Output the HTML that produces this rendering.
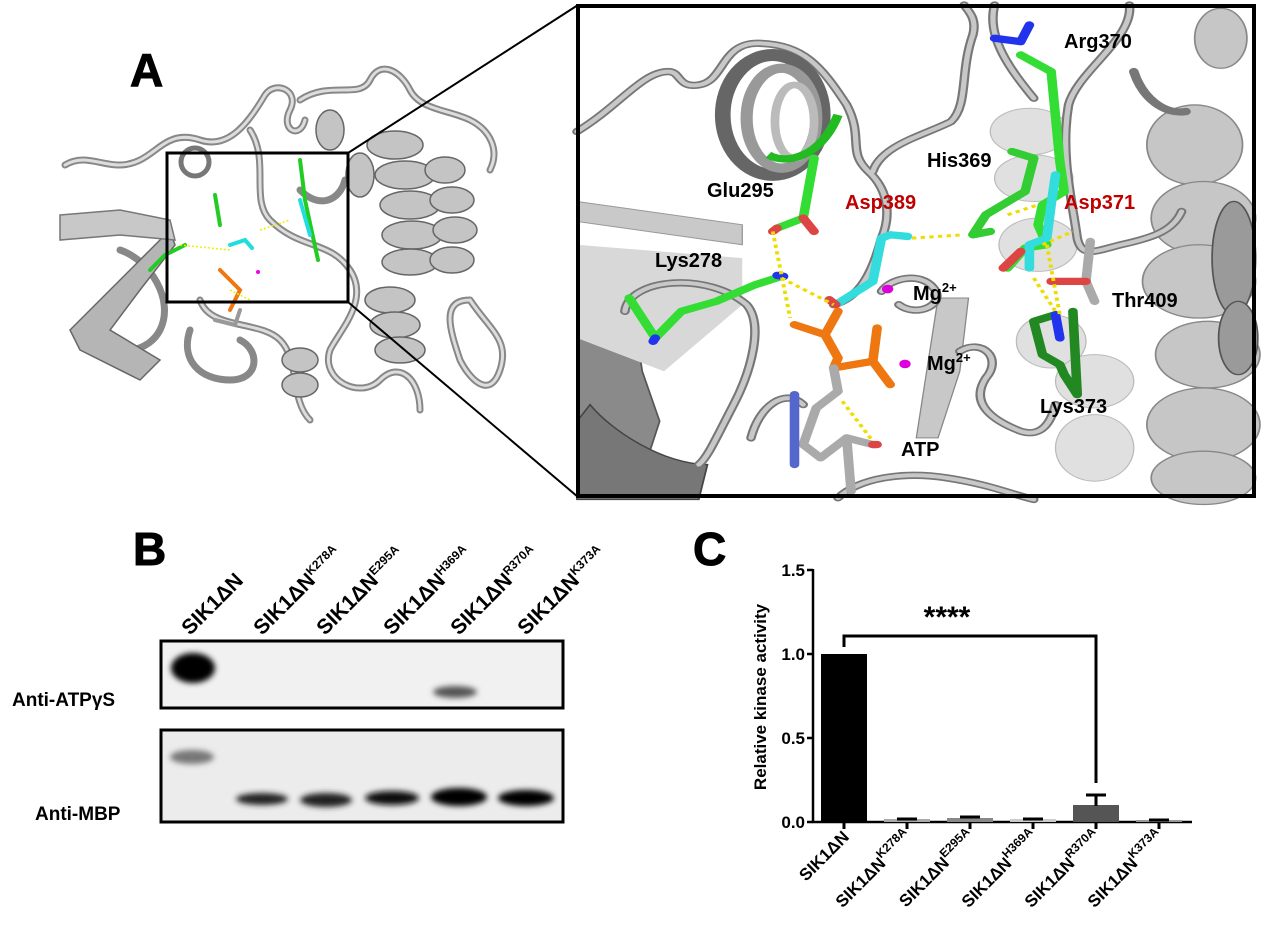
<!DOCTYPE html>
<html><head><meta charset="utf-8">
<style>
html,body{margin:0;padding:0;background:#fff;}
svg{display:block;}
text{font-family:"Liberation Sans",Arial,sans-serif;font-weight:bold;}
</style></head>
<body>
<svg width="1270" height="947" viewBox="0 0 1270 947" xmlns="http://www.w3.org/2000/svg">
<rect width="1270" height="947" fill="#fff"/>

<!-- ===== Panel A left structure ===== -->
<text x="130" y="86" font-size="46" fill="#000" stroke="#000" stroke-width="1">A</text>
<g fill="none" stroke-linecap="round" stroke-linejoin="round">
  <g stroke="#888" stroke-width="7">
  <path d="M65,165 C90,150 110,175 140,160 C160,150 170,130 200,140 C230,150 250,120 265,95 C275,80 300,90 290,110 C280,130 300,140 305,120"/>
  <path d="M250,130 C270,160 250,200 270,220 C300,250 330,240 350,270 C370,300 340,330 330,350 C320,380 360,400 380,380 C400,360 420,380 420,410"/>
  <path d="M300,100 C330,80 360,100 370,80 C380,60 400,70 410,90 C420,110 450,110 470,120 C490,130 500,150 490,170"/>
  <path d="M470,300 C490,330 510,340 500,370 C490,400 470,380 460,360 C450,330 440,300 470,300"/>
  <path d="M190,330 C180,360 200,380 230,380 C260,380 260,350 240,340"/>
  <path d="M90,340 C120,360 150,350 160,330 C175,300 150,260 120,250"/>
  <path d="M200,300 C210,330 260,320 280,340 C300,360 290,400 310,420"/>
  <path d="M300,190 C320,210 340,200 345,180"/>
  </g>
  <g stroke="#ddd" stroke-width="3">
  <path d="M65,165 C90,150 110,175 140,160 C160,150 170,130 200,140 C230,150 250,120 265,95 C275,80 300,90 290,110 C280,130 300,140 305,120"/>
  <path d="M250,130 C270,160 250,200 270,220 C300,250 330,240 350,270 C370,300 340,330 330,350 C320,380 360,400 380,380 C400,360 420,380 420,410"/>
  <path d="M300,100 C330,80 360,100 370,80 C380,60 400,70 410,90 C420,110 450,110 470,120 C490,130 500,150 490,170"/>
  <path d="M470,300 C490,330 510,340 500,370 C490,400 470,380 460,360 C450,330 440,300 470,300"/>
  <path d="M200,300 C210,330 260,320 280,340 C300,360 290,400 310,420"/>
  </g>
</g>
<path d="M70,330 L100,300 L150,250 L170,230 L175,245 L140,290 L110,330 L160,360 L140,380 L80,350 Z" fill="#b5b5b5" stroke="#666" stroke-width="1.5"/>
<path d="M60,215 L120,210 L170,220 L175,240 L120,235 L60,240 Z" fill="#c8c8c8" stroke="#777" stroke-width="1.5"/>
<g fill="#c4c4c4" stroke="#666" stroke-width="1.5">
  <ellipse cx="395" cy="145" rx="28" ry="14"/>
  <ellipse cx="405" cy="175" rx="30" ry="14"/>
  <ellipse cx="410" cy="205" rx="30" ry="14"/>
  <ellipse cx="412" cy="235" rx="30" ry="14"/>
  <ellipse cx="410" cy="262" rx="28" ry="13"/>
  <ellipse cx="445" cy="170" rx="20" ry="13"/>
  <ellipse cx="452" cy="200" rx="22" ry="13"/>
  <ellipse cx="455" cy="230" rx="22" ry="13"/>
  <ellipse cx="452" cy="260" rx="22" ry="13"/>
  <ellipse cx="300" cy="360" rx="18" ry="12"/>
  <ellipse cx="300" cy="385" rx="18" ry="12"/>
  <ellipse cx="390" cy="300" rx="25" ry="13"/>
  <ellipse cx="395" cy="325" rx="25" ry="13"/>
  <ellipse cx="400" cy="350" rx="25" ry="13"/>
  <ellipse cx="360" cy="175" rx="14" ry="22"/>
  <ellipse cx="330" cy="130" rx="14" ry="20"/>
  <ellipse cx="195" cy="162" rx="14" ry="14" fill="none" stroke="#777" stroke-width="5"/>
</g>
<g stroke-width="4" fill="none" stroke-linecap="round">
  <path d="M150,270 L165,255 L185,245" stroke="#22cc22"/>
  <path d="M215,195 L220,225" stroke="#22cc22"/>
  <path d="M230,245 L245,240 L252,248" stroke="#22dddd"/>
  <path d="M220,270 L240,290 L230,310" stroke="#ee7711"/>
  <path d="M300,160 L305,200 L318,260" stroke="#22cc22"/>
  <path d="M300,200 L310,235" stroke="#22dddd"/>
  <path d="M215,320 L235,325 L240,310" stroke="#999"/>
</g>
<g stroke="#ee0" stroke-width="1.5" stroke-dasharray="2,2" fill="none">
  <path d="M180,245 L230,250"/><path d="M260,230 L290,220"/><path d="M230,290 L250,300"/>
</g>
<circle cx="258" cy="272" r="2" fill="#e0e"/>
<rect x="167" y="153" width="181" height="149" fill="none" stroke="#000" stroke-width="3"/>
<line x1="348" y1="153" x2="578" y2="5" stroke="#000" stroke-width="2"/>
<line x1="348" y1="302" x2="578" y2="497" stroke="#000" stroke-width="2"/>

<!-- ===== Panel A right zoom ===== -->
<g transform="translate(577,5) scale(0.435,0.333)">
  <rect width="1563" height="1485" fill="#fff"/>
  <path d="M0,720 C60,760 130,900 150,1100 L190,1250 L160,1370 L0,1370 Z" fill="#8a8a8a" stroke="#555" stroke-width="4"/>
  <path d="M0,590 L380,660 L380,720 L0,650 Z" fill="#c9c9c9" stroke="#999" stroke-width="3"/>
  <path d="M0,720 L380,760 L380,900 L200,1100 L0,1000 Z" fill="#d8d8d8" stroke="none"/>
  <path d="M30,1200 C80,1280 200,1380 300,1380 L280,1485 L0,1485 L0,1250 Z" fill="#777" stroke="#444" stroke-width="4"/>
  <g fill="#c6c6c6" stroke="#888" stroke-width="4">
    <ellipse cx="1480" cy="100" rx="60" ry="90"/>
    <ellipse cx="1420" cy="420" rx="110" ry="120"/>
    <ellipse cx="1440" cy="640" rx="120" ry="110"/>
    <ellipse cx="1430" cy="830" rx="130" ry="110"/>
    <ellipse cx="1450" cy="1050" rx="120" ry="100"/>
    <ellipse cx="1440" cy="1260" rx="130" ry="110"/>
    <ellipse cx="1440" cy="1420" rx="120" ry="80"/>
  </g>
  <g fill="#9a9a9a" stroke="#555" stroke-width="4">
    <ellipse cx="1510" cy="760" rx="50" ry="170"/>
    <ellipse cx="1520" cy="1000" rx="45" ry="110"/>
  </g>
  <g fill="#e0e0e0" stroke="#bbb" stroke-width="3">
    <ellipse cx="1040" cy="380" rx="90" ry="70"/>
    <ellipse cx="1050" cy="520" rx="90" ry="70"/>
    <ellipse cx="1060" cy="720" rx="90" ry="80"/>
    <ellipse cx="1090" cy="1010" rx="80" ry="80"/>
    <ellipse cx="1190" cy="1130" rx="90" ry="80"/>
    <ellipse cx="1190" cy="1330" rx="90" ry="100"/>
  </g>
  <path d="M830,880 L900,880 L880,1100 L830,1300 L780,1300 Z" fill="#c8c8c8" stroke="#888" stroke-width="3"/>
  <g fill="none" stroke-linecap="round" stroke-linejoin="round">
    <g stroke="#777" stroke-width="22">
    <path d="M0,380 C100,300 150,200 210,200 C240,200 230,250 280,240 C340,230 330,110 420,115 C520,120 560,180 620,300 C660,400 620,440 670,500 C720,560 720,640 700,700 C680,800 650,880 590,900"/>
    <path d="M680,500 C700,420 800,390 860,350 C900,300 880,200 910,90 C920,40 900,20 890,0"/>
    <path d="M1270,0 C1280,100 1150,200 1130,300 C1110,450 1140,600 1150,700 C1160,760 1190,740 1250,720 C1320,700 1370,680 1390,620"/>
    <path d="M110,920 C120,820 300,800 390,900 C430,960 400,1100 360,1200 C320,1300 300,1360 280,1380"/>
    <path d="M700,860 C720,820 790,800 820,850 C850,900 780,940 740,900"/>
    <path d="M880,1040 C930,1000 980,1060 940,1120 C900,1200 960,1250 1020,1280 C1070,1300 1090,1250 1100,1200"/>
    <path d="M1280,200 C1300,280 1350,330 1400,320"/>
    <path d="M600,1480 C650,1420 750,1400 850,1420 C950,1440 1000,1470 1050,1485"/>
    <path d="M960,0 C940,100 1000,200 1050,280"/>
    <path d="M400,1300 C420,1200 480,1150 520,1200"/>
    </g>
    <g stroke="#c8c8c8" stroke-width="12">
    <path d="M0,380 C100,300 150,200 210,200 C240,200 230,250 280,240 C340,230 330,110 420,115 C520,120 560,180 620,300 C660,400 620,440 670,500 C720,560 720,640 700,700 C680,800 650,880 590,900"/>
    <path d="M680,500 C700,420 800,390 860,350 C900,300 880,200 910,90 C920,40 900,20 890,0"/>
    <path d="M1270,0 C1280,100 1150,200 1130,300 C1110,450 1140,600 1150,700 C1160,760 1190,740 1250,720 C1320,700 1370,680 1390,620"/>
    <path d="M110,920 C120,820 300,800 390,900 C430,960 400,1100 360,1200 C320,1300 300,1360 280,1380"/>
    <path d="M700,860 C720,820 790,800 820,850 C850,900 780,940 740,900"/>
    <path d="M880,1040 C930,1000 980,1060 940,1120 C900,1200 960,1250 1020,1280 C1070,1300 1090,1250 1100,1200"/>
    <path d="M600,1480 C650,1420 750,1400 850,1420 C950,1440 1000,1470 1050,1485"/>
    <path d="M960,0 C940,100 1000,200 1050,280"/>
    <path d="M400,1300 C420,1200 480,1150 520,1200"/>
    </g>
  </g>
  <g fill="none">
    <ellipse cx="450" cy="330" rx="115" ry="180" stroke="#666" stroke-width="36"/>
    <ellipse cx="470" cy="340" rx="80" ry="150" stroke="#999" stroke-width="28"/>
    <ellipse cx="500" cy="350" rx="45" ry="110" stroke="#bbb" stroke-width="20"/>
  </g>
  <path d="M440,450 C480,480 560,460 600,330" stroke="#22bb22" stroke-width="22" fill="none"/>
  <g fill="none" stroke-linecap="round" stroke-linejoin="round" stroke-width="22">
    <path d="M545,460 L520,640 L460,670" stroke="#33dd33"/>
    <path d="M520,640 L545,680" stroke="#dd4444"/>
    <path d="M460,670 L450,680" stroke="#dd4444"/>
    <path d="M470,815 L410,840 L320,890 L240,920 L180,1000 L120,880" stroke="#33dd33"/>
    <path d="M475,815 L460,812" stroke="#2233ee"/>
    <path d="M180,1000 L175,1010" stroke="#2233ee"/>
    <path d="M595,900 L680,830 L700,700 L720,690 L760,695" stroke="#33dddd"/>
    <path d="M595,900 L580,885" stroke="#dd4444"/>
    <path d="M1020,150 L1090,200 L1110,470 L1120,560 L1070,600 L1060,660 L1080,720 L1030,730 L990,790" stroke="#33dd33"/>
    <path d="M960,100 L1020,110 L1040,60" stroke="#2233ee"/>
    <path d="M1000,440 L1050,460 L1030,560 L940,630 L910,690 L950,680" stroke="#33cc33"/>
    <path d="M1100,510 L1090,600 L1080,700 L1040,720 L1040,790" stroke="#33dddd"/>
    <path d="M1020,740 L980,790" stroke="#dd4444"/>
    <path d="M1180,710 L1170,830 L1190,890" stroke="#aaa"/>
    <path d="M1170,830 L1090,830" stroke="#dd4444"/>
    <path d="M1140,920 L1150,1170 L1120,1110 L1110,1080 L1070,1050 L1050,950 L1100,930" stroke="#228822"/>
    <path d="M1100,930 L1110,1000" stroke="#2233ee"/>
    <path d="M500,960 L570,990 L600,1060 L590,1090 L680,1070 L720,1140" stroke="#ee7711"/>
    <path d="M570,990 L600,920" stroke="#ee7711"/>
    <path d="M680,1070 L690,970" stroke="#ee7711"/>
    <path d="M590,1090 L600,1160 L550,1210 L520,1320 L560,1360 L620,1300 L680,1320" stroke="#aaa"/>
    <path d="M500,1170 L500,1380" stroke="#5566cc"/>
    <path d="M620,1300 L630,1460" stroke="#aaa"/>
    <path d="M680,1320 L690,1320" stroke="#dd4444"/>
  </g>
  <g fill="none" stroke="#eedd00" stroke-width="9" stroke-dasharray="10,10">
    <path d="M450,680 L490,940"/>
    <path d="M470,820 L590,900"/>
    <path d="M770,700 L890,690"/>
    <path d="M990,630 L1060,600"/>
    <path d="M1070,720 L1140,680"/>
    <path d="M1080,720 L1110,930"/>
    <path d="M1050,820 L1100,920"/>
    <path d="M610,1190 L680,1310"/>
  </g>
  <ellipse cx="714" cy="853" rx="13" ry="13" fill="#dd00dd"/>
  <ellipse cx="754" cy="1078" rx="13" ry="13" fill="#dd00dd"/>
</g>
<rect x="578" y="6" width="676" height="490" fill="none" stroke="#000" stroke-width="4"/>
<g font-size="20" fill="#000">
  <text x="1064" y="48">Arg370</text>
  <text x="927" y="167">His369</text>
  <text x="707" y="197">Glu295</text>
  <text x="845" y="209" fill="#c00000">Asp389</text>
  <text x="1064" y="209" fill="#c00000">Asp371</text>
  <text x="655" y="267">Lys278</text>
  <text x="913" y="300">Mg<tspan font-size="13" dy="-8">2+</tspan></text>
  <text x="1112" y="307">Thr409</text>
  <text x="927" y="370">Mg<tspan font-size="13" dy="-8">2+</tspan></text>
  <text x="1040" y="413">Lys373</text>
  <text x="901" y="456">ATP</text>
</g>

<!-- ===== Panel B ===== -->
<text x="133" y="565" font-size="46" fill="#000" stroke="#000" stroke-width="1">B</text>
<g font-size="21" fill="#000">
  <text transform="translate(190,636) rotate(-45)">SIK1ΔN</text>
  <text transform="translate(262,636) rotate(-45)">SIK1ΔN<tspan font-size="12" dy="-8">K278A</tspan></text>
  <text transform="translate(325,636) rotate(-45)">SIK1ΔN<tspan font-size="12" dy="-8">E295A</tspan></text>
  <text transform="translate(392,636) rotate(-45)">SIK1ΔN<tspan font-size="12" dy="-8">H369A</tspan></text>
  <text transform="translate(459,636) rotate(-45)">SIK1ΔN<tspan font-size="12" dy="-8">R370A</tspan></text>
  <text transform="translate(526,636) rotate(-45)">SIK1ΔN<tspan font-size="12" dy="-8">K373A</tspan></text>
</g>
<defs>
  <filter id="bl" x="-50%" y="-50%" width="200%" height="200%"><feGaussianBlur stdDeviation="3"/></filter>
</defs>
<rect x="161" y="641" width="402" height="67" fill="#f1f1f1" stroke="#000" stroke-width="3"/>
<ellipse cx="193" cy="668" rx="22" ry="15" fill="#000" filter="url(#bl)"/>
<ellipse cx="455" cy="692" rx="22" ry="6" fill="#555" filter="url(#bl)"/>
<rect x="161" y="730" width="402" height="92" fill="#ececec" stroke="#000" stroke-width="3"/>
<ellipse cx="192" cy="757" rx="22" ry="7" fill="#777" filter="url(#bl)"/>
<ellipse cx="262" cy="799" rx="26" ry="6" fill="#222" filter="url(#bl)"/>
<ellipse cx="326" cy="800" rx="26" ry="7" fill="#222" filter="url(#bl)"/>
<ellipse cx="392" cy="798" rx="27" ry="7" fill="#111" filter="url(#bl)"/>
<ellipse cx="459" cy="797" rx="28" ry="9" fill="#000" filter="url(#bl)"/>
<ellipse cx="526" cy="798" rx="28" ry="8" fill="#000" filter="url(#bl)"/>
<g font-size="19" fill="#000">
  <text x="12" y="706">Anti-ATPγS</text>
  <text x="35" y="820">Anti-MBP</text>
</g>

<!-- ===== Panel C ===== -->
<text x="693" y="565" font-size="46" fill="#000" stroke="#000" stroke-width="1">C</text>
<g stroke="#000" stroke-width="2.5" fill="none">
  <line x1="813" y1="569" x2="813" y2="823"/>
  <line x1="812" y1="822" x2="1192" y2="822"/>
  <line x1="807" y1="570" x2="813" y2="570"/>
  <line x1="807" y1="654" x2="813" y2="654"/>
  <line x1="807" y1="738" x2="813" y2="738"/>
  <line x1="807" y1="822" x2="813" y2="822"/>
</g>
<g font-size="17" fill="#000" text-anchor="end">
  <text x="805" y="576">1.5</text>
  <text x="805" y="660">1.0</text>
  <text x="805" y="744">0.5</text>
  <text x="805" y="828">0.0</text>
</g>
<text transform="translate(766,697) rotate(-90)" font-size="17" text-anchor="middle">Relative kinase activity</text>
<rect x="821" y="654" width="46" height="168" fill="#000"/>
<rect x="884" y="819" width="46" height="3" fill="#aaa"/>
<rect x="947" y="818" width="46" height="4" fill="#888"/>
<rect x="1010" y="819" width="46" height="3" fill="#ccc"/>
<rect x="1073" y="805" width="46" height="17" fill="#555"/>
<rect x="1136" y="820" width="46" height="2" fill="#999"/>
<g stroke="#000" stroke-width="3">
  <line x1="897" y1="819" x2="917" y2="819"/>
  <line x1="960" y1="817" x2="980" y2="817"/>
  <line x1="1023" y1="819" x2="1043" y2="819"/>
  <line x1="1096" y1="795" x2="1096" y2="806"/>
  <line x1="1086" y1="795" x2="1106" y2="795"/>
  <line x1="1149" y1="820" x2="1169" y2="820"/>
  <line x1="844" y1="822" x2="844" y2="829"/>
  <line x1="907" y1="822" x2="907" y2="829"/>
  <line x1="970" y1="822" x2="970" y2="829"/>
  <line x1="1033" y1="822" x2="1033" y2="829"/>
  <line x1="1096" y1="822" x2="1096" y2="829"/>
  <line x1="1159" y1="822" x2="1159" y2="829"/>
</g>
<path d="M844,647 L844,636 L1096,636 L1096,783" stroke="#000" stroke-width="3" fill="none"/>
<text x="947" y="627" font-size="30" text-anchor="middle">****</text>
<g font-size="17" fill="#000" text-anchor="end">
  <text transform="translate(850,838) rotate(-45)">SIK1ΔN</text>
  <text transform="translate(913,838) rotate(-45)">SIK1ΔN<tspan font-size="12" dy="-8">K278A</tspan></text>
  <text transform="translate(976,838) rotate(-45)">SIK1ΔN<tspan font-size="12" dy="-8">E295A</tspan></text>
  <text transform="translate(1039,838) rotate(-45)">SIK1ΔN<tspan font-size="12" dy="-8">H369A</tspan></text>
  <text transform="translate(1102,838) rotate(-45)">SIK1ΔN<tspan font-size="12" dy="-8">R370A</tspan></text>
  <text transform="translate(1165,838) rotate(-45)">SIK1ΔN<tspan font-size="12" dy="-8">K373A</tspan></text>
</g>
</svg>
</body></html>
